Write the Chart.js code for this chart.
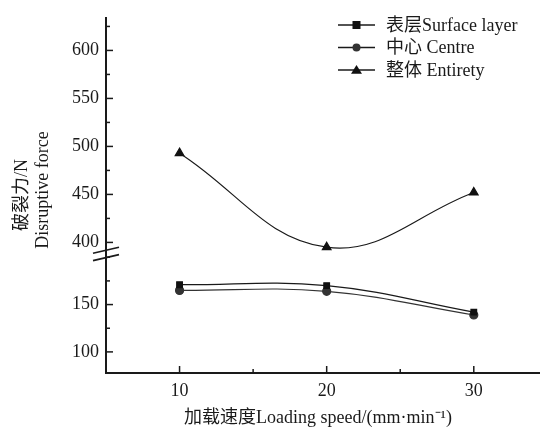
<!DOCTYPE html>
<html lang="en">
<head>
<meta charset="UTF-8">
<title>Disruptive force vs loading speed</title>
<style>
  html, body { margin: 0; padding: 0; background: #fff; }
  #wrap { width: 540px; height: 427px; }
</style>
</head>
<body>
<div id="wrap"><canvas id="myCanvas"></canvas></div>
<script src="https://cdn.jsdelivr.net/npm/chart.js@4.4.0/dist/chart.umd.min.js"></script>
<script>
// data
const speeds = [10, 20, 30];
const surface = [171, 170, 142];
const centre = [165, 164, 139];
const entirety = [493, 395, 452];
const seriesNames = ['表层Surface layer', '中心 Centre', '整体 Entirety'];
const xTicks = [10, 20, 30];
const upperTicks = [400, 450, 500, 550, 600];
const lowerTicks = [100, 150];

const SERIF = '"Liberation Serif", "Noto Sans CJK SC", serif';
const INK = '#1a1a1a';

function pts(vals) {
  return speeds.map((s, i) => ({ x: s, y: vals[i] }));
}

function fixTicks(list) {
  return function (scale) {
    scale.ticks = list.map(v => ({ value: v }));
  };
}

// inward major/minor ticks, axis break, titles and legend
const decor = {
  id: 'decor',
  afterDraw(chart) {
    const ctx = chart.ctx;
    const area = chart.chartArea;
    const sx = chart.scales.x, yU = chart.scales.yU, yL = chart.scales.yL;
    ctx.save();
    ctx.strokeStyle = INK;
    ctx.lineWidth = 1.5;

    function marks(scale, list, vertical) {
      const step = list[1] - list[0];
      for (let v = list[0] - step; v <= list[list.length - 1] + step; v += step / 2) {
        if (v < scale.min || v > scale.max) continue;
        const major = list.indexOf(v) >= 0;
        const len = major ? 7 : 4;
        const p = scale.getPixelForValue(v);
        ctx.beginPath();
        if (vertical) {
          ctx.moveTo(area.left, p);
          ctx.lineTo(area.left + len, p);
        } else {
          ctx.moveTo(p, area.bottom);
          ctx.lineTo(p, area.bottom - len);
        }
        ctx.stroke();
      }
    }
    marks(yU, upperTicks, true);
    marks(yL, lowerTicks, true);
    marks(sx, xTicks, false);

    // break marks on the y axis
    const yb = yU.bottom;
    ctx.lineWidth = 1.6;
    [-3.7, 3.7].forEach(d => {
      ctx.beginPath();
      ctx.moveTo(area.left - 13, yb + d + 3);
      ctx.lineTo(area.left + 13, yb + d - 3);
      ctx.stroke();
    });

    // axis titles
    ctx.fillStyle = INK;
    ctx.font = '18px ' + SERIF;
    ctx.textAlign = 'center';
    ctx.textBaseline = 'middle';
    ctx.fillText('加载速度Loading speed/(mm·min⁻¹)', 318, 418);
    ctx.save();
    ctx.translate(22, 195);
    ctx.rotate(-Math.PI / 2);
    ctx.fillText('破裂力/N', 0, 0);
    ctx.restore();
    ctx.save();
    ctx.translate(43, 190);
    ctx.rotate(-Math.PI / 2);
    ctx.fillText('Disruptive force', 0, 0);
    ctx.restore();

    // legend
    ctx.textAlign = 'left';
    chart.data.datasets.forEach((ds, i) => {
      const y = 25 + i * 22.5;
      ctx.strokeStyle = INK;
      ctx.lineWidth = 1.3;
      ctx.beginPath();
      ctx.moveTo(338, y);
      ctx.lineTo(375, y);
      ctx.stroke();
      ctx.fillStyle = ds.pointBackgroundColor;
      ctx.beginPath();
      const r = ds.pointRadius;
      if (ds.pointStyle === 'rect') {
        ctx.fillRect(356.5 - r, y - r, 2 * r, 2 * r);
      } else if (ds.pointStyle === 'circle') {
        ctx.arc(356.5, y, r, 0, Math.PI * 2);
        ctx.fill();
      } else {
        ctx.moveTo(356.5, y - r);
        ctx.lineTo(356.5 + r * 1.1, y + r * 0.75);
        ctx.lineTo(356.5 - r * 1.1, y + r * 0.75);
        ctx.closePath();
        ctx.fill();
      }
      ctx.fillStyle = INK;
      ctx.fillText(ds.label, 386, y + 1);
    });
    ctx.restore();
  }
};

const ctx = document.getElementById('myCanvas').getContext('2d');
const myChart = new Chart(ctx, {
  type: 'line',
  data: {
    datasets: [{
      label: seriesNames[0],
      data: pts(surface),
      yAxisID: 'yL',
      borderColor: INK,
      borderWidth: 1.2,
      pointStyle: 'rect',
      pointRadius: 4,
      pointBackgroundColor: '#111',
      pointBorderColor: '#111',
      tension: 0.4
    }, {
      label: seriesNames[1],
      data: pts(centre),
      yAxisID: 'yL',
      borderColor: '#333',
      borderWidth: 1.2,
      pointStyle: 'circle',
      pointRadius: 4,
      pointBackgroundColor: '#333',
      pointBorderColor: '#333',
      tension: 0.4
    }, {
      label: seriesNames[2],
      data: pts(entirety),
      yAxisID: 'yU',
      borderColor: INK,
      borderWidth: 1.2,
      pointStyle: 'triangle',
      pointRadius: 5,
      pointBackgroundColor: '#111',
      pointBorderColor: '#111',
      tension: 0.4
    }]
  },
  options: {
    responsive: true,
    maintainAspectRatio: false,
    animation: false,
    layout: { autoPadding: false, padding: { top: 15, left: 0, right: 0, bottom: 0 } },
    plugins: { legend: { display: false }, tooltip: { enabled: false } },
    scales: {
      x: {
        type: 'linear',
        min: 5,
        max: 34.5,
        afterBuildTicks: fixTicks(xTicks),
        afterFit(s) { s.height = 54; s.paddingRight = 0; s.paddingLeft = 0; },
        grid: { display: false, drawTicks: false },
        border: { color: INK, width: 2 },
        ticks: { padding: 7, color: INK, font: { family: SERIF, size: 18 } }
      },
      yL: {
        type: 'linear',
        position: 'left',
        stack: 'force',
        stackWeight: 120,
        min: 77.7,
        max: 203.5,
        afterBuildTicks: fixTicks(lowerTicks),
        afterFit(s) { s.width = 106; },
        grid: { display: false, drawTicks: false },
        border: { color: INK, width: 2 },
        ticks: { padding: 7, color: INK, font: { family: SERIF, size: 18 } }
      },
      yU: {
        type: 'linear',
        position: 'left',
        stack: 'force',
        stackWeight: 238,
        min: 388,
        max: 634,
        afterBuildTicks: fixTicks(upperTicks),
        afterFit(s) { s.width = 106; },
        grid: { display: false, drawTicks: false },
        border: { color: INK, width: 2 },
        ticks: { padding: 7, color: INK, font: { family: SERIF, size: 18 } }
      }
    }
  },
  plugins: [decor]
});
</script>
</body>
</html>
